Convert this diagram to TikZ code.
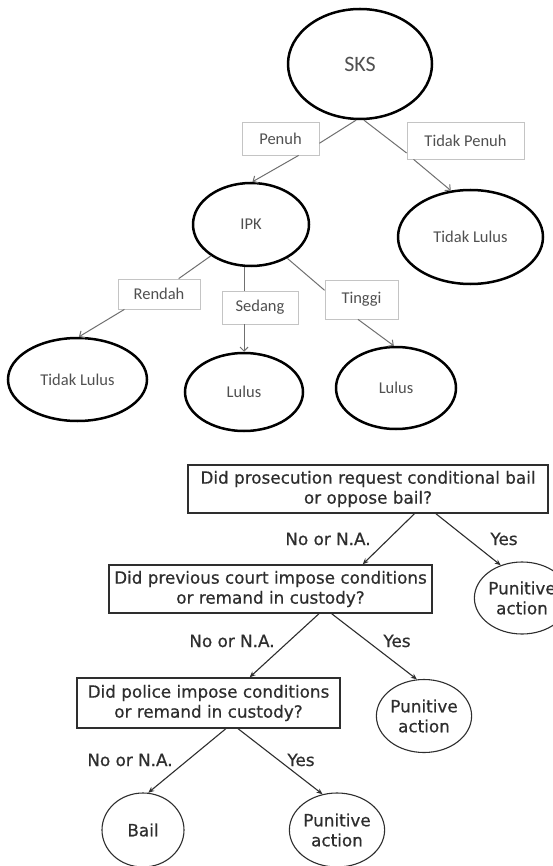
\documentclass[tikz,border=0pt]{standalone}
\usepackage{fontspec}
\usetikzlibrary{shapes.geometric,arrows.meta}
\newfontfamily\calibfont{Carlito}
\newfontfamily\dvfont[FakeBold=0.6]{DejaVu Sans}
\definecolor{toptext}{HTML}{505050}
\definecolor{topline}{HTML}{707070}
\definecolor{lblborder}{HTML}{C4C4C4}
\definecolor{botink}{HTML}{2E2E2E}
\begin{document}
\begin{tikzpicture}[x=1pt,y=-1pt,
  topell/.style={ellipse,draw=black,line width=2.5pt,inner sep=0pt,text=toptext,
    font=\calibfont\fontsize{16.5}{18}\selectfont},
  toplbl/.style={rectangle,draw=lblborder,line width=0.8pt,inner sep=0pt,text=toptext,
    font=\calibfont\fontsize{16.5}{18}\selectfont},
  topedge/.style={draw=topline,line width=1pt},
  toparrow/.style={topedge,-{Straight Barb[length=4pt,width=8pt]}},
  qbox/.style={rectangle,draw=botink,line width=1.4pt,inner sep=0pt,align=center,text=botink,
    font=\dvfont\fontsize{16.8}{20}\selectfont},
  endell/.style={ellipse,draw=botink,line width=1.1pt,inner sep=0pt,align=center,text=botink,
    font=\dvfont\fontsize{16.8}{20}\selectfont},
  edgelbl/.style={anchor=base,inner sep=0pt,text=botink,font=\dvfont\fontsize{16.8}{20}\selectfont},
  botarrow/.style={draw=botink,line width=1.1pt,-{Stealth[length=6pt,width=5pt]}}
]
\useasboundingbox[fill=white] (0,0) rectangle (553,866);

% ---------- top tree ----------
\node[topell,minimum width=144pt,minimum height=110pt,font=\calibfont\fontsize{22}{24}\selectfont] (sks) at (360,64) {SKS};
\node[toplbl,minimum width=77pt,minimum height=33pt] (penuh) at (280.5,138.5) {Penuh};
\node[toplbl,minimum width=117pt,minimum height=37pt] (tp) at (465.5,140.5) {Tidak Penuh};
\node[topell,minimum width=116pt,minimum height=83pt] (ipk) at (251,224.5) {IPK};
\node[topell,minimum width=145pt,minimum height=94pt] (tl1) at (470.5,237) {Tidak Lulus};
\node[toplbl,minimum width=82pt,minimum height=30pt] (rendah) at (159,294) {Rendah};
\node[toplbl,minimum width=76pt,minimum height=33pt] (sedang) at (260,307.5) {Sedang};
\node[toplbl,minimum width=73pt,minimum height=39pt] (tinggi) at (361.5,299.5) {Tinggi};
\node[topell,minimum width=139pt,minimum height=83pt] (tl2) at (77.5,379.5) {Tidak Lulus};
\node[topell,minimum width=118pt,minimum height=78pt] (lulus1) at (244,392) {Lulus};
\node[topell,minimum width=120pt,minimum height=82pt] (lulus2) at (396,388) {Lulus};

\draw[topedge] (sks.266) -- (penuh.-7);
\draw[toparrow] (penuh.-43) -- (ipk.88);
\draw[topedge] (sks.274) -- (tp.-168);
\draw[toparrow] (tp.-160) -- (tl1.113);
\draw[topedge] (ipk.-142) -- (rendah.38);
\draw[toparrow] (rendah.-156) -- (tl2.88);
\draw[topedge] (ipk.south -| lulus1.north) -- (sedang.north -| lulus1.north);
\draw[toparrow] (sedang.south -| lulus1.north) -- (lulus1.north);
\draw[topedge] (ipk.-43) -- (tinggi.166);
\draw[toparrow] (tinggi.-100) -- (lulus2.93);

% ---------- bottom tree ----------
\node[qbox,minimum width=360pt,minimum height=48pt] (q1) at (368,489)
  {Did prosecution request conditional bail\\or oppose bail?};
\node[qbox,minimum width=323pt,minimum height=48pt] (q2) at (270.5,589)
  {Did previous court impose conditions\\or remand in custody?};
\node[qbox,minimum width=263pt,minimum height=50pt] (q3) at (208.5,703)
  {Did police impose conditions\\or remand in custody?};
\node[endell,minimum width=84pt,minimum height=72pt] (p1) at (522,598) {Punitive\\action};
\node[endell,minimum width=84pt,minimum height=73pt] (p2) at (424,716) {Punitive\\action};
\node[endell,minimum width=82pt,minimum height=74pt] (bail) at (143,830) {Bail};
\node[endell,minimum width=80pt,minimum height=74pt] (p3) at (337,830) {Punitive\\action};

\draw[botarrow] (q1.-28.6) -- (q2.15.5);
\draw[botarrow] (q1.-20.6) -- (p1.123);
\draw[botarrow] (q2.-27.3) -- (q3.32.3);
\draw[botarrow] (q2.-22) -- (p2.101);
\draw[botarrow] (q3.-56.6) -- (bail.82);
\draw[botarrow] (q3.-41.3) -- (p3.112);

\node[edgelbl] (n1) at (328,545) {No or N.A.};
\node[edgelbl] (y1) at (504,545) {Yes};
\node[edgelbl] (n2) at (232,647) {No or N.A.};
\node[edgelbl] (y2) at (397,647) {Yes};
\node[edgelbl] (n3) at (130,766) {No or N.A.};
\node[edgelbl] (y3) at (301,766) {Yes};
\end{tikzpicture}
\end{document}
